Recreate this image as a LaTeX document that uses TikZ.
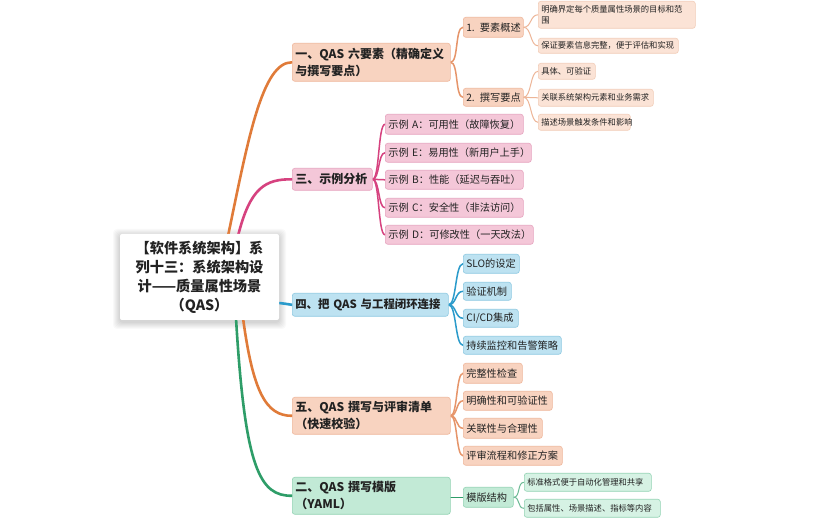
\documentclass[tikz,border=0pt]{standalone}
\usepackage{fontspec}
\setmainfont{Noto Sans CJK SC}
\usetikzlibrary{backgrounds}
\definecolor{oLine}{HTML}{E07B39}
\definecolor{oSub}{HTML}{E6956A}
\definecolor{oLeafL}{HTML}{EDB597}
\definecolor{oFill}{HTML}{F8D3C0}
\definecolor{oBord}{HTML}{EFB79C}
\definecolor{oLeaf}{HTML}{FBE3D6}
\definecolor{oLeafB}{HTML}{F2CDB8}
\definecolor{pLine}{HTML}{D6427F}
\definecolor{pFill}{HTML}{F4C7D8}
\definecolor{pBord}{HTML}{E6A4BF}
\definecolor{bLine}{HTML}{2B9BCB}
\definecolor{bFill}{HTML}{BDE2F1}
\definecolor{bBord}{HTML}{8EC9E2}
\definecolor{gLine}{HTML}{2E9D68}
\definecolor{gFill}{HTML}{C2EAD6}
\definecolor{gBord}{HTML}{93D3B4}
\definecolor{gLeaf}{HTML}{D6F2E4}
\definecolor{txt}{HTML}{222222}
\tikzset{
  bx/.style={rounded corners=2.5pt, inner xsep=3pt, inner ysep=0pt, anchor=north west, align=left, text=txt, line width=0.6pt},
  mainbox/.style={bx, font=\bfseries\fontsize{12}{17}\selectfont},
  subbox/.style={bx, font=\fontsize{10.2}{12}\selectfont},
  leafbox/.style={bx, font=\fontsize{8.3}{11}\selectfont},
  mainline/.style={line width=2.6pt, line cap=round},
  subline/.style={line width=1.5pt, line cap=round},
  leafline/.style={line width=1pt, line cap=round},
}
\begin{document}
\begin{tikzpicture}[x=1pt,y=-1pt]
\useasboundingbox (0,0) rectangle (828,518);
\node[fill=white, rounded corners=2pt, minimum width=159pt, minimum height=86pt, inner sep=0pt, align=center, text=txt, font=\bfseries\fontsize{14.2}{19}\selectfont] (root) at (199.5,277) {【软件系统架构】系\\列十三：系统架构设\\计——质量属性场景\\（QAS）};

% main branches
\node[mainbox, draw=oBord, fill=oFill, text width=152pt, minimum height=38pt] (b1) at (292,43) {\mbox{一、QAS 六要素（精确定义}\\与撰写要点）};
\node[mainbox, draw=pBord, fill=pFill, text width=74pt, minimum height=22pt] (b3) at (292,168) {三、示例分析};
\node[mainbox, draw=bBord, fill=bFill, text width=150pt, minimum height=23pt, font=\bfseries\fontsize{11.4}{17}\selectfont] (b4) at (292,293) {\mbox{四、把 QAS 与工程闭环连接}};
\node[mainbox, draw=oBord, fill=oFill, text width=152pt, minimum height=37pt] (b5) at (292,397) {\mbox{五、QAS 撰写与评审清单}\\（快速校验）};
\node[mainbox, draw=gBord, fill=gFill, text width=152pt, minimum height=37pt] (b2) at (292,477) {\mbox{二、QAS 撰写模版}\\（YAML）};

% branch 1 children
\node[subbox, draw=oBord, fill=oFill, text width=54pt, minimum height=20pt] (c11) at (463,17) {\mbox{1. 要素概述}};
\node[subbox, draw=oBord, fill=oFill, text width=54pt, minimum height=18pt] (c12) at (463,88) {\mbox{2. 撰写要点}};
\node[leafbox, draw=oLeafB, fill=oLeaf, text width=151pt, minimum height=27pt] (l111) at (538,1) {明确界定每个质量属性场景的目标和范\\围};
\node[leafbox, draw=oLeafB, fill=oLeaf, text width=134pt, minimum height=15pt] (l112) at (538,38) {保证要素信息完整，便于评估和实现};
\node[leafbox, draw=oLeafB, fill=oLeaf, text width=51pt, minimum height=16pt] (l121) at (538,63) {具体、可验证};
\node[leafbox, draw=oLeafB, fill=oLeaf, text width=109pt, minimum height=17pt] (l122) at (538,89) {关联系统架构元素和业务需求};
\node[leafbox, draw=oLeafB, fill=oLeaf, text width=86pt, minimum height=16pt] (l123) at (538,114) {描述场景触发条件和影响};

% branch 3 children
\node[subbox, draw=pBord, fill=pFill, text width=132pt, minimum height=20pt] (c3a) at (385,114) {\mbox{示例 A：可用性（故障恢复）}};
\node[subbox, draw=pBord, fill=pFill, text width=140pt, minimum height=19pt] (c3e) at (385,143) {\mbox{示例 E：易用性（新用户上手）}};
\node[subbox, draw=pBord, fill=pFill, text width=132pt, minimum height=19pt] (c3b) at (385,170) {\mbox{示例 B：性能（延迟与吞吐）}};
\node[subbox, draw=pBord, fill=pFill, text width=132pt, minimum height=19pt] (c3c) at (385,198) {\mbox{示例 C：安全性（非法访问）}};
\node[subbox, draw=pBord, fill=pFill, text width=142pt, minimum height=19pt] (c3d) at (385,225) {\mbox{示例 D：可修改性（一天改法）}};

% branch 4 children
\node[subbox, draw=bBord, fill=bFill, text width=50pt, minimum height=19pt] (c4a) at (463,254) {SLO的设定};
\node[subbox, draw=bBord, fill=bFill, text width=42pt, minimum height=18pt] (c4b) at (463,282) {验证机制};
\node[subbox, draw=bBord, fill=bFill, text width=49pt, minimum height=18pt] (c4c) at (463,309) {CI/CD集成};
\node[subbox, draw=bBord, fill=bFill, text width=92pt, minimum height=18pt] (c4d) at (463,336) {持续监控和告警策略};

% branch 5 children
\node[subbox, draw=oBord, fill=oFill, text width=53pt, minimum height=20pt] (c5a) at (463,363) {完整性检查};
\node[subbox, draw=oBord, fill=oFill, text width=83pt, minimum height=19pt] (c5b) at (463,391) {明确性和可验证性};
\node[subbox, draw=oBord, fill=oFill, text width=73pt, minimum height=20pt] (c5c) at (463,418) {关联性与合理性};
\node[subbox, draw=oBord, fill=oFill, text width=93pt, minimum height=19pt] (c5d) at (463,446) {评审流程和修正方案};

% branch 2 children
\node[subbox, draw=gBord, fill=gFill, text width=44pt, minimum height=20pt] (c2) at (463,487) {模版结构};
\node[leafbox, draw=gBord, fill=gLeaf, text width=121pt, minimum height=18pt] (l21) at (524,473) {标准格式便于自动化管理和共享};
\node[leafbox, draw=gBord, fill=gLeaf, text width=130pt, minimum height=18pt] (l22) at (524,499) {包括属性、场景描述、指标等内容};

\begin{scope}[on background layer]
\fill[white] (0,0) rectangle (828,518);
\foreach \i in {1,...,7}{
  \fill[black, opacity=0.025, rounded corners=4pt] (120-\i,234-\i+2) rectangle (279+\i,320+\i+2);
}
% main connectors
\draw[mainline, oLine] (228,236) .. controls (248,140) and (262,62) .. (b1.west);
\draw[mainline, pLine] (238,236) .. controls (250,188) and (265,179) .. (b3.west);
\draw[mainline, bLine] (275,303) .. controls (285,303) and (287,304.5) .. (b4.west);
\draw[mainline, oLine] (243,318) .. controls (253,392) and (266,416) .. (b5.west);
\draw[mainline, gLine] (236,318) .. controls (245,470) and (260,496) .. (b2.west);
% sub connectors
\foreach \c in {c11,c12}{\draw[subline, oSub] (b1.east) .. controls +(8,0) and +(-8,0) .. (\c.west);}
\foreach \c in {l111,l112}{\draw[leafline, oLeafL] (c11.east) .. controls +(8,0) and +(-8,0) .. (\c.west);}
\foreach \c in {l121,l122,l123}{\draw[leafline, oLeafL] (c12.east) .. controls +(8,0) and +(-8,0) .. (\c.west);}
\foreach \c in {c3a,c3e,c3b,c3c,c3d}{\draw[subline, pLine] (b3.east) .. controls +(7,0) and +(-7,0) .. (\c.west);}
\foreach \c in {c4a,c4b,c4c,c4d}{\draw[subline, bLine] (b4.east) .. controls +(8,0) and +(-8,0) .. (\c.west);}
\foreach \c in {c5a,c5b,c5c,c5d}{\draw[subline, oSub] (b5.east) .. controls +(7,0) and +(-7,0) .. (\c.west);}
\draw[subline, gLine] (b2.east |- c2.west) -- (c2.west);
\foreach \c in {l21,l22}{\draw[leafline, gLine!70] (c2.east) .. controls +(7,0) and +(-7,0) .. (\c.west);}
\end{scope}
\end{tikzpicture}
\end{document}
